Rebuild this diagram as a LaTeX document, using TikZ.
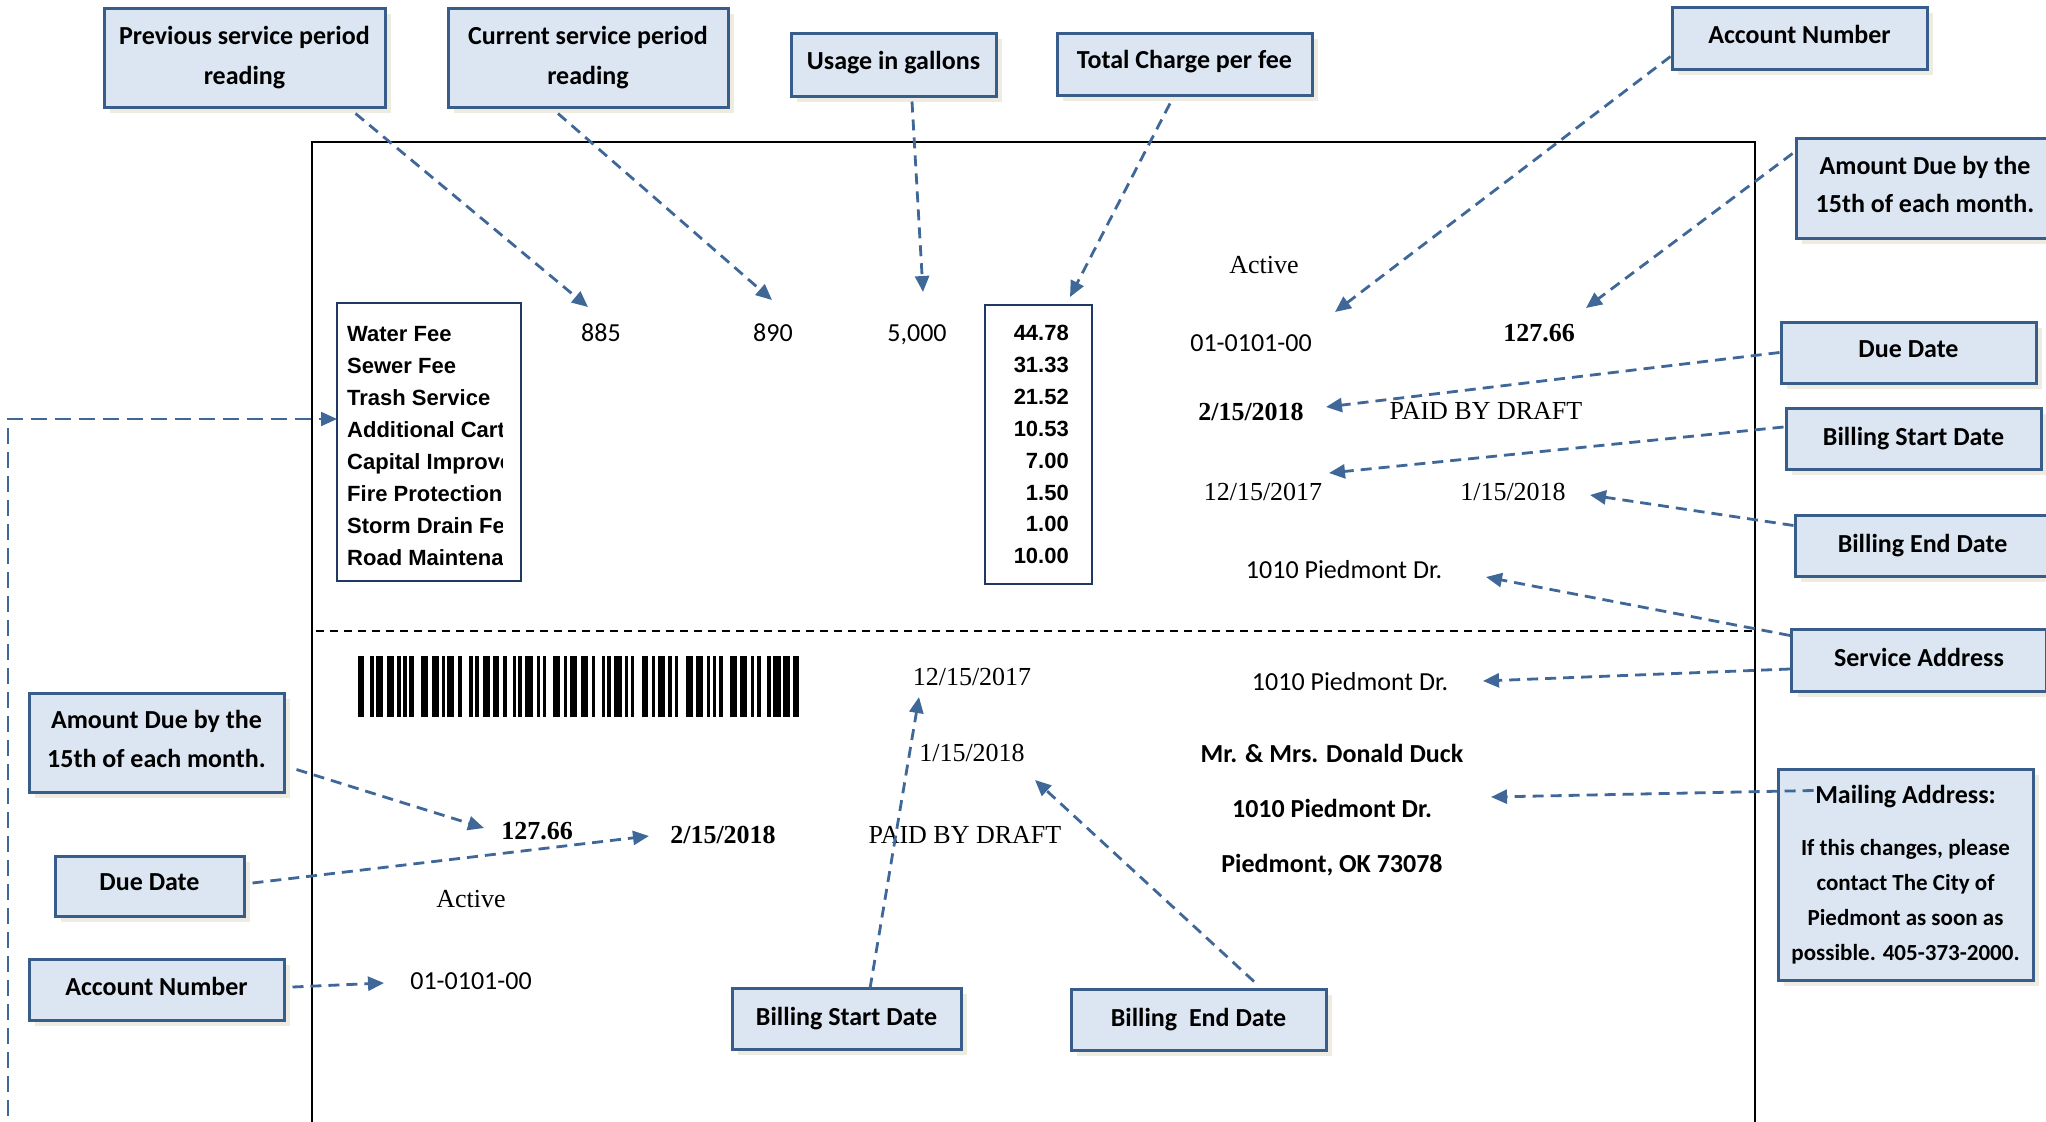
\documentclass[tikz,border=0pt]{standalone}
\usepackage{fontspec}
\setmainfont{Carlito}
\newfontfamily\serfont{Liberation Serif}
\newfontfamily\arifont{Liberation Sans}
\usetikzlibrary{arrows.meta,shadows,calc}
\definecolor{boxfill}{RGB}{220,230,242}
\definecolor{boxborder}{RGB}{56,93,138}
\definecolor{shadowc}{RGB}{238,236,225}
\definecolor{arrowc}{RGB}{63,103,152}
\definecolor{navyc}{RGB}{31,56,100}
\begin{document}
\begin{tikzpicture}[x=1pt,y=-1pt,
  lbl/.style={draw=boxborder,line width=3pt,fill=boxfill,
    drop shadow={shadow xshift=6pt,shadow yshift=-6pt,fill=shadowc,opacity=1},
    font=\fontsize{26}{40}\selectfont\bfseries,align=center,inner sep=0pt},
  arr/.style={arrowc,line width=2.8pt,dash pattern=on 11pt off 7pt,-{Triangle[length=16pt,width=14pt]}},
  longarr/.style={arrowc,line width=2.2pt,dash pattern=on 16pt off 8pt,-{Triangle[length=16pt,width=14pt]}},
  tx/.style={inner sep=0pt,text height=17pt,text depth=0pt,font=\fontsize{26}{30}\selectfont},
  txb/.style={tx,font=\fontsize{26}{30}\selectfont\bfseries},
  sr/.style={tx,font=\serfont\fontsize{26}{30}\selectfont},
  srb/.style={tx,font=\serfont\fontsize{26}{30}\selectfont\bfseries},
  fee/.style={inner sep=0pt,text height=16pt,text depth=0pt,font=\arifont\fontsize{22}{26}\selectfont\bfseries},
  frame/.style={draw=navyc,line width=2.5pt,inner sep=0pt}]
\useasboundingbox[fill=white] (0,0) rectangle (2046,1122);

% bill outline
\draw[line width=2pt] (312,1140) -- (312,142) -- (1755,142) -- (1755,1140);
\draw[line width=2pt,dash pattern=on 8pt off 6pt] (316,631) -- (1755,631);

% fee box
\node[frame,minimum width=184pt,minimum height=278pt] (feebox) at (429,442) {};
\begin{scope}
\clip (340,306) rectangle (502,580);
\node[fee,anchor=west] (f1) at (347,333) {Water Fee};
\node[fee,anchor=west] (f2) at (347,365) {Sewer Fee};
\node[fee,anchor=west] (f3) at (347,397) {Trash Service};
\node[fee,anchor=west] (f4) at (347,429) {Additional Cart};
\node[fee,anchor=west] (f5) at (347,461) {Capital Improve};
\node[fee,anchor=west] (f6) at (347,493) {Fire Protection};
\node[fee,anchor=west] (f7) at (347,525) {Storm Drain Fe};
\node[fee,anchor=west] (f8) at (347,557) {Road Maintena};
\end{scope}

% charges box
\node[frame,minimum width=107pt,minimum height=279pt] (chgbox) at (1038.5,444.5) {};
\node[fee,anchor=east] (c1) at (1069,332) {44.78};
\node[fee,anchor=east] (c2) at (1069,364) {31.33};
\node[fee,anchor=east] (c3) at (1069,396) {21.52};
\node[fee,anchor=east] (c4) at (1069,428) {10.53};
\node[fee,anchor=east] (c5) at (1069,460) {7.00};
\node[fee,anchor=east] (c6) at (1069,492) {1.50};
\node[fee,anchor=east] (c7) at (1069,523) {1.00};
\node[fee,anchor=east] (c8) at (1069,555) {10.00};

% readings
\node[tx] (t885) at (601,333) {885};
\node[tx] (t890) at (773,333) {890};
\node[tx] (t5000) at (917,333) {5,000};

% upper right data
\node[sr] (active1) at (1264,265) {Active};
\node[tx] (acct1) at (1251,343) {01-0101-00};
\node[srb] (amt1) at (1539,333) {127.66};
\node[srb] (due1) at (1251,412) {2/15/2018};
\node[sr] (paid1) at (1486,411) {PAID BY DRAFT};
\node[sr] (bs1) at (1263,492) {12/15/2017};
\node[sr] (be1) at (1513,492) {1/15/2018};
\node[tx] (addr1) at (1344,570) {1010 Piedmont Dr.};

% lower part
\foreach \a/\b in {55/72,90/102,108/130,140/162,170/182,190/200,208/222,242/265,275/297,305/315,322/342,355/367,388/398,405/418,428/450,458/478,488/500,518/528,535/545,555/580,590/600,608/618,640/660,672/682,690/712,722/745,755/765,785/795,800/812,822/845,855/865,872/882,905/925,935/945,955/975,985/995,1005/1015,1038/1060,1068/1090,1100/1110,1118/1128,1138/1148,1170/1192,1200/1222,1232/1242,1252/1262,1282/1292,1300/1322,1330/1350,1360/1378}
  \fill ({340+\a/3},656) rectangle ({340+\b/3},717);
\node[sr] (bs2) at (972,677) {12/15/2017};
\node[sr] (be2) at (972,753) {1/15/2018};
\node[srb] (amt2) at (537,831) {127.66};
\node[srb] (due2) at (723,835) {2/15/2018};
\node[sr] (paid2) at (965,835) {PAID BY DRAFT};
\node[sr] (active2) at (471,899) {Active};
\node[tx] (acct2) at (471,981) {01-0101-00};
\node[tx] (addr2) at (1350,682) {1010 Piedmont Dr.};
\node[txb] (name) at (1332,754) {Mr. \& Mrs. Donald Duck};
\node[txb] (addr3) at (1332,809) {1010 Piedmont Dr.};
\node[txb] (city) at (1332,864) {Piedmont, OK 73078};

% label boxes
\node[lbl,minimum width=281pt,minimum height=99pt] (prevbox) at (244.5,57.5) {Previous service period\\reading};
\node[lbl,minimum width=280pt,minimum height=99pt] (curbox) at (588,57.5) {Current service period\\reading};
\node[lbl,minimum width=205pt,minimum height=63pt,text depth=9pt] (usebox) at (893.5,64.5) {Usage in gallons};
\node[lbl,minimum width=255pt,minimum height=62pt,text depth=9pt] (totbox) at (1184.5,64) {Total Charge per fee};
\node[lbl,minimum width=255pt,minimum height=62pt,text depth=7pt] (acctbox) at (1799.5,38) {Account Number};
\node[lbl,minimum width=258pt,minimum height=100pt,text depth=7pt,font=\fontsize{26}{38}\selectfont\bfseries] (amtbox) at (1925,188) {Amount Due by the\\15th of each month.};
\node[lbl,minimum width=255pt,minimum height=61pt,text depth=6pt] (duebox) at (1908.5,352.5) {Due Date};
\node[lbl,minimum width=255pt,minimum height=61pt] (bsbox) at (1913.5,438.5) {Billing Start Date};
\node[lbl,minimum width=255pt,minimum height=61pt] (bebox) at (1922.5,545.5) {Billing End Date};
\node[lbl,minimum width=255pt,minimum height=62pt,text depth=6pt] (sabox) at (1919,660) {Service Address};
\node[lbl,minimum width=255pt,minimum height=211pt,font=\fontsize{23}{35}\selectfont\bfseries] (mailbox) at (1905.5,874.5)
  {{\fontsize{26}{35}\selectfont Mailing Address:}\\[17pt]If this changes, please\\contact The City of\\Piedmont as soon as\\possible. 405-373-2000.};
\node[lbl,minimum width=255pt,minimum height=99pt,text depth=7pt,font=\fontsize{26}{39}\selectfont\bfseries] (amtbox2) at (156.5,742.5) {Amount Due by the\\15th of each month.};
\node[lbl,minimum width=189pt,minimum height=60pt,text depth=7pt] (duebox2) at (149.5,886) {Due Date};
\node[lbl,minimum width=255pt,minimum height=61pt,text depth=6pt] (acctbox2) at (156.5,989.5) {Account Number};
\node[lbl,minimum width=229pt,minimum height=61pt] (bsbox2) at (846.5,1018.5) {Billing Start Date};
\node[lbl,minimum width=255pt,minimum height=61pt] (bebox2) at (1198.5,1019.5) {Billing\ \ End Date};

% arrow tips
\coordinate (tipprev) at (588,307);
\coordinate (tipcur) at (772,300);
\coordinate (tipuse) at (923,292);
\coordinate (tiptot) at (1070,297);
\coordinate (tipacct) at (1335,312);
\coordinate (tipamt) at (1586,308);
\coordinate (tipdue) at (1326,407);
\coordinate (tipbs) at (1329,473);
\coordinate (tipbe) at (1590,495);
\coordinate (tipsa1) at (1486,577);
\coordinate (tipsa2) at (1483,681);
\coordinate (tipmail) at (1491,797);
\coordinate (tipamt2) at (484,828);
\coordinate (tipdue2) at (649,836);
\coordinate (tipacct2) at (384,983);
\coordinate (tipbs2) at (919,697);
\coordinate (tipbe2) at (1035,780);
\coordinate (tipfee) at (337,419);
\coordinate (lstart) at (8,1140);

% arrows
\draw[arr] ($(prevbox.south east)+(-31,5)$) -- (tipprev);
\draw[arr] ($(curbox.south)+(-30,5)$) -- (tipcur);
\draw[arr] ($(usebox.south)+(18.5,4)$) -- (tipuse);
\draw[arr] ($(totbox.south)+(-14.5,7)$) -- (tiptot);
\draw[arr] ($(acctbox.south west)+(0,-14)$) -- (tipacct);
\draw[arr] ($(amtbox.north west)+(-2,17)$) -- (tipamt);
\draw[arr] (duebox.west) -- (tipdue);
\draw[arr] ($(bsbox.west)+(-1,-11.5)$) -- (tipbs);
\draw[arr] ($(bebox.north west)+(0,12)$) -- (tipbe);
\draw[arr] ($(sabox.north west)+(0,8)$) -- (tipsa1);
\draw[arr] ($(sabox.west)+(0,9)$) -- (tipsa2);
\draw[arr] ($(mailbox.north west)+(37,23)$) -- (tipmail);
\draw[arr] ($(amtbox2.south east)+(11,-24)$) -- (tipamt2);
\draw[arr] ($(duebox2.east)+(7,-3)$) -- (tipdue2);
\draw[arr] ($(acctbox2.east)+(7,-2.5)$) -- (tipacct2);
\draw[arr] ($(bsbox2.north)+(23.5,2)$) -- (tipbs2);
\draw[arr] ($(bebox2.north)+(55.5,-6)$) -- (tipbe2);
\draw[longarr] (lstart) |- (tipfee);
\end{tikzpicture}
\end{document}
